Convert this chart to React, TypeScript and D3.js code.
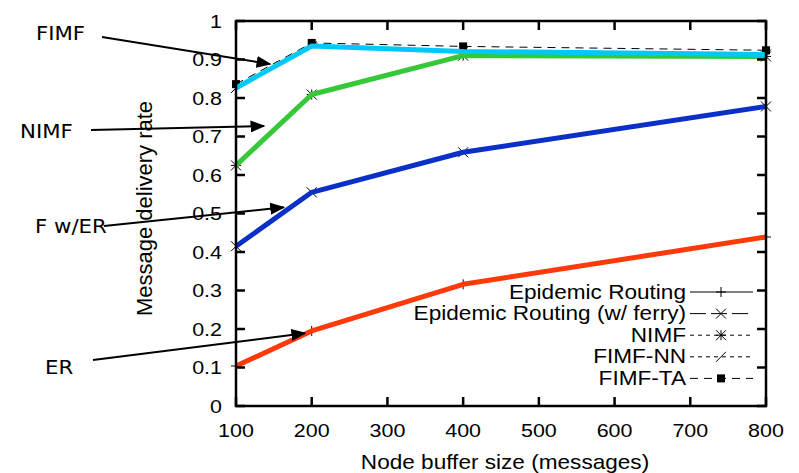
import React from 'react';
import * as d3 from 'd3';

// buffer sizes on the x axis
const BUFFER_SIZES = [100, 200, 400, 800];

// delivery rate per series
const ER_RATE = [0.104, 0.195, 0.316, 0.439];
const ER_FERRY_RATE = [0.415, 0.555, 0.659, 0.778];
const NIMF_RATE = [0.625, 0.809, 0.91, 0.908];
const FIMF_NN_RATE = [0.826, 0.935, 0.921, 0.913];
const FIMF_TA_RATE = [0.836, 0.943, 0.934, 0.924];

const LEGEND_LABELS = ['Epidemic Routing', 'Epidemic Routing (w/ ferry)', 'NIMF', 'FIMF-NN', 'FIMF-TA'];
const MARKERS = ['plus', 'cross', 'star', 'slash', 'square'];
const DASHES = ['none', '16,5', '4,4', '4,4', '8,6'];
const LINE_COLORS = ['#ff3a0a', '#0a30c8', '#36c836', '#00c8f8', '#00c8f8'];

// callouts: label, tip in data coords
const CALLOUTS = [
  {label: 'FIMF', tx: 36, ty: 33, sx: 102, sy: 37, x: 145, y: 0.888},
  {label: 'NIMF', tx: 20, ty: 131, sx: 91, sy: 130, x: 137, y: 0.727},
  {label: 'F w/ER', tx: 35, ty: 226, sx: 104, sy: 226, x: 163, y: 0.516},
  {label: 'ER', tx: 45, ty: 367, sx: 93, sy: 360, x: 191, y: 0.189},
];

const W = 799, H = 473;
const PL = 236, PR = 766, PT = 21, PB = 406;
const ARIAL = 'Liberation Sans, Arial, sans-serif';
const SX = 1.13;

function Marker({kind, cx, cy}: {kind: string; cx: number; cy: number}) {
  const s = 5;
  const st = {stroke: '#000', strokeWidth: 1, fill: 'none'};
  if (kind === 'plus') return <path d={`M${cx - s},${cy}H${cx + s}M${cx},${cy - s}V${cy + s}`} {...st} />;
  if (kind === 'cross') return <path d={`M${cx - s},${cy - s}L${cx + s},${cy + s}M${cx - s},${cy + s}L${cx + s},${cy - s}`} {...st} />;
  if (kind === 'star') return <path d={`M${cx - s},${cy}H${cx + s}M${cx},${cy - s}V${cy + s}M${cx - s},${cy - s}L${cx + s},${cy + s}M${cx - s},${cy + s}L${cx + s},${cy - s}`} {...st} />;
  if (kind === 'slash') return <path d={`M${cx - s},${cy + s}L${cx + s},${cy - s}`} {...st} />;
  return <rect x={cx - 4} y={cy - 4} width={8} height={8} fill="#000" />;
}

function T({x, y, children, anchor = 'middle', size = 19, sx = SX, family = ARIAL}: any) {
  return (
    <g transform={`translate(${x},${y}) scale(${sx},1)`}>
      <text textAnchor={anchor} dominantBaseline="central" fontSize={size} fontFamily={family} fill="#000">{children}</text>
    </g>
  );
}

export default function App() {
  const x = d3.scaleLinear().domain([100, 800]).range([PL, PR]);
  const y = d3.scaleLinear().domain([0, 1]).range([PB, PT]);
  const series = [ER_RATE, ER_FERRY_RATE, NIMF_RATE, FIMF_NN_RATE, FIMF_TA_RATE];
  const line = d3.line<number>().x((_, i) => x(BUFFER_SIZES[i])).y(d => y(d));
  const xTicks = x.ticks(7);
  const yTicks = y.ticks(10);
  const legY0 = 292, legDy = 21.6;

  return (
    <svg width={W} height={H} style={{position: 'absolute', left: 0, top: 0, background: '#fff'}}>
      <defs>
        <marker id="ah" viewBox="0 0 10 10" refX="9" refY="5" markerWidth="7.5" markerHeight="7.5" orient="auto">
          <path d="M0,1L10,5L0,9z" fill="#000" />
        </marker>
      </defs>

      {/* thin black gnuplot lines with point markers */}
      {series.map((s, k) => (
        <g key={'b' + k}>
          <path d={line(s) || ''} fill="none" stroke="#000" strokeWidth={1} strokeDasharray={DASHES[k] === 'none' ? undefined : DASHES[k]} />
          {s.map((v, i) => <Marker key={i} kind={MARKERS[k]} cx={x(BUFFER_SIZES[i])} cy={y(v)} />)}
        </g>
      ))}

      {/* thick coloured overlays */}
      {[0, 1, 2, 3].map(k => (
        <path key={'c' + k} d={line(series[k]) || ''} fill="none" stroke={LINE_COLORS[k]} strokeWidth={5} strokeLinejoin="round" />
      ))}

      {/* frame and ticks */}
      <rect x={PL} y={PT} width={PR - PL} height={PB - PT} fill="none" stroke="#000" strokeWidth={2.5} />
      {xTicks.map(t => (
        <g key={'xt' + t}>
          <line x1={x(t)} x2={x(t)} y1={PB} y2={PB - 9} stroke="#000" strokeWidth={2.5} />
          <line x1={x(t)} x2={x(t)} y1={PT} y2={PT + 9} stroke="#000" strokeWidth={2.5} />
          <T x={x(t)} y={430}>{t}</T>
        </g>
      ))}
      {yTicks.map(t => (
        <g key={'yt' + t}>
          <line x1={PL} x2={PL + 9} y1={y(t)} y2={y(t)} stroke="#000" strokeWidth={2.5} />
          <line x1={PR} x2={PR - 9} y1={y(t)} y2={y(t)} stroke="#000" strokeWidth={2.5} />
          <T x={222} y={y(t)} anchor="end">{String(+t.toFixed(1))}</T>
        </g>
      ))}

      <T x={505} y={462} size={20}>Node buffer size (messages)</T>
      <text transform={`translate(144,${(PT + PB) / 2 - 5}) rotate(-90)`} textAnchor="middle" dominantBaseline="central" fontSize={22} fontFamily={ARIAL}>Message delivery rate</text>

      {/* legend */}
      {LEGEND_LABELS.map((lab, k) => {
        const ly = legY0 + k * legDy;
        return (
          <g key={'lg' + k}>
            <T x={686} y={ly} anchor="end" size={20}>{lab}</T>
            <line x1={690} x2={753} y1={ly} y2={ly} stroke="#000" strokeWidth={1} strokeDasharray={DASHES[k] === 'none' ? undefined : DASHES[k]} />
            <Marker kind={MARKERS[k]} cx={721} cy={ly} />
          </g>
        );
      })}

      {/* callout labels and arrows */}
      {CALLOUTS.map(c => (
        <g key={c.label}>
          <T x={c.tx} y={c.ty} anchor="start" size={19} sx={1.12} family="DejaVu Sans, sans-serif">{c.label}</T>
          <line x1={c.sx} y1={c.sy} x2={x(c.x)} y2={y(c.y)} stroke="#000" strokeWidth={2} markerEnd="url(#ah)" />
        </g>
      ))}
    </svg>
  );
}
